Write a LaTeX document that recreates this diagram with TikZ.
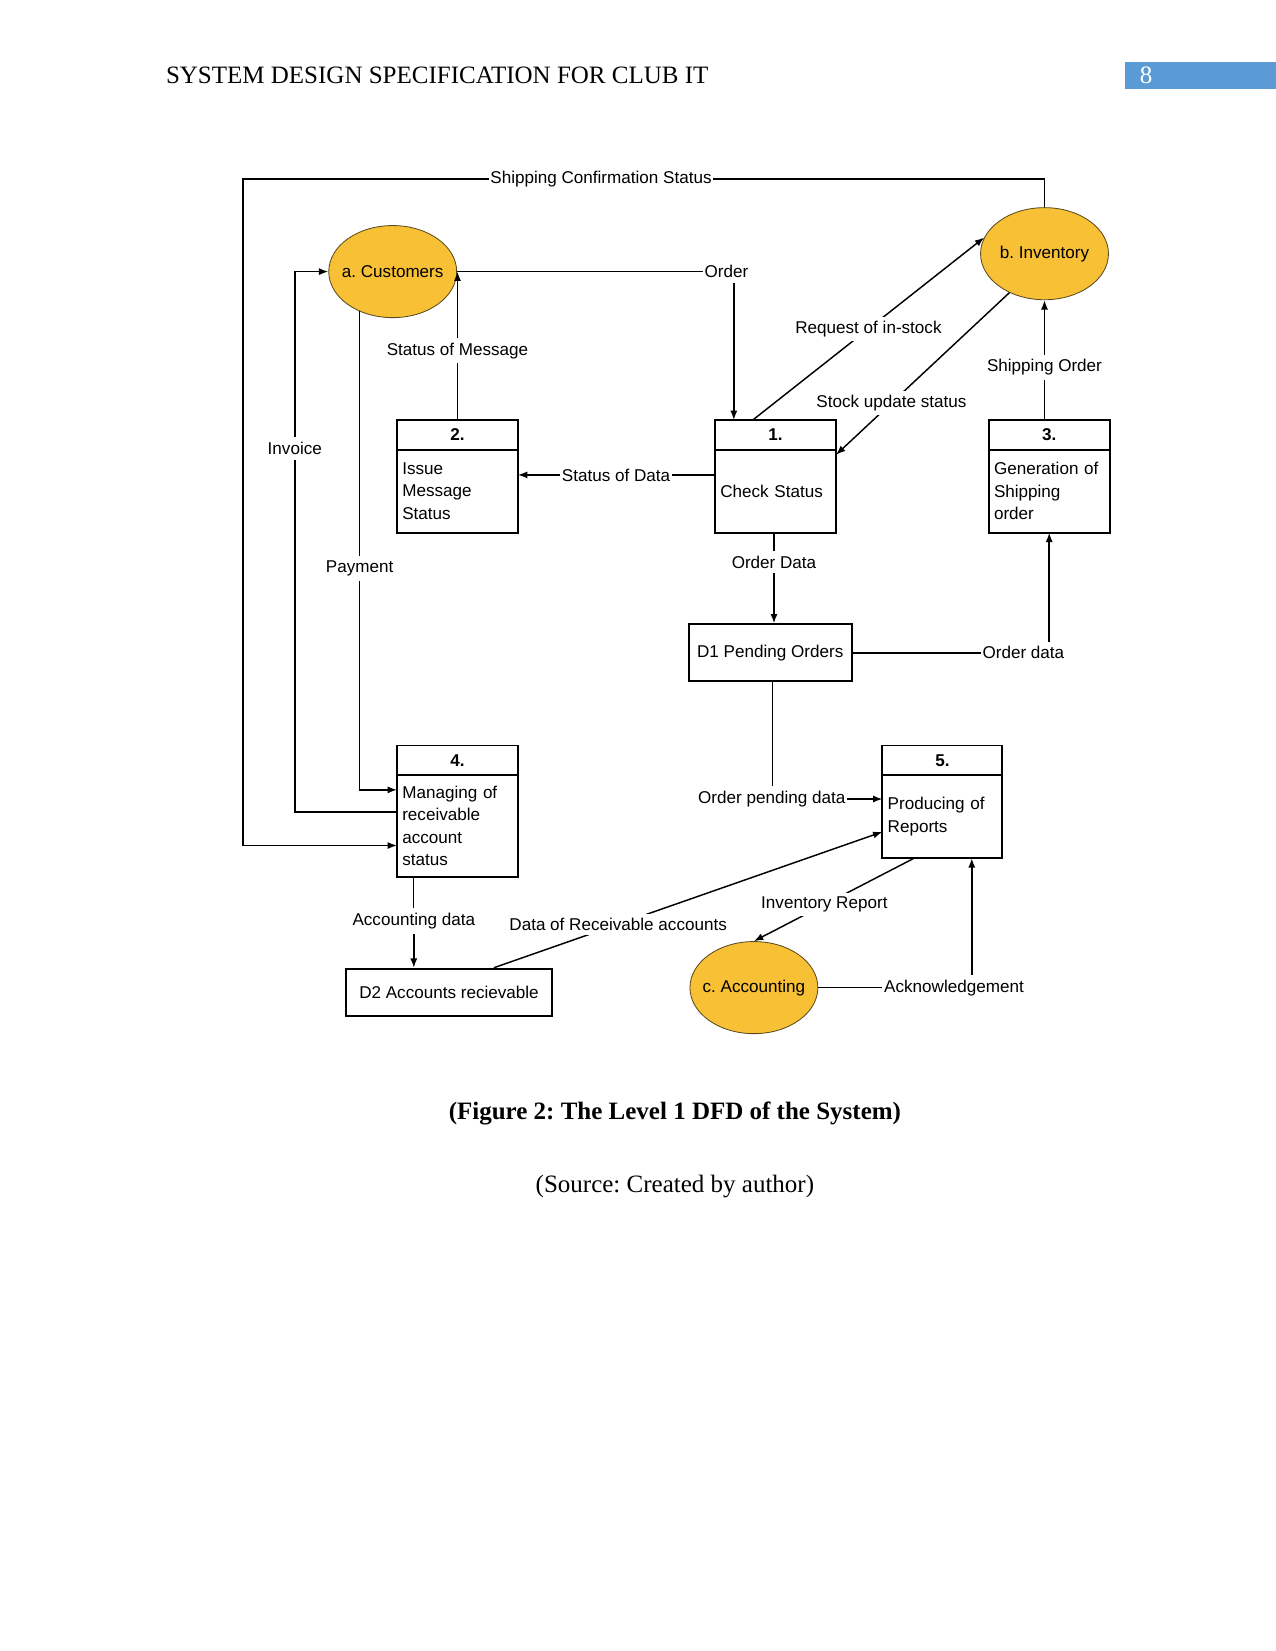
\documentclass[tikz,border=0pt]{standalone}
\usepackage{fontspec}
\setmainfont{Liberation Serif}
\newfontfamily\dfdsans{Liberation Sans}
\usepackage{tikz}
\usetikzlibrary{arrows.meta,positioning,shapes.geometric}
\usepackage{xcolor}
\definecolor{dfd-entity-yellow}{HTML}{F8C035}
\definecolor{dfd-entity-line}{HTML}{5A4A1E}
\definecolor{dfd-page-blue}{HTML}{5B9BD5}
\newcommand{\enttext}[1]{\makebox[0pt]{#1}}
\frenchspacing

\begin{document}
\begin{tikzpicture}[x=0.48pt, y=-0.48pt, >={Latex[length=4.5pt,width=3.4pt]}, line width=0.7pt,
    font=\dfdsans\fontsize{8.2}{10.8}\selectfont]
  \tikzstyle{entity}=[ellipse, draw=dfd-entity-line, line width=0.4pt, fill=dfd-entity-yellow,
    minimum width=61.4pt, minimum height=44.2pt, inner sep=0pt]
  \tikzstyle{prochead}=[draw, line width=0.95pt, anchor=north, minimum width=58.1pt, outer sep=0pt,
    minimum height=14.2pt, inner sep=0pt, font=\dfdsans\bfseries\fontsize{8.2}{10.8}\selectfont]
  \tikzstyle{procbody}=[draw, line width=0.95pt, minimum height=39.9pt, text width=53pt, outer sep=0pt,
    inner xsep=2.55pt, align=left]
  \tikzstyle{store}=[draw, line width=0.95pt, inner sep=0pt]
  \tikzstyle{lbl}=[fill=white, inner xsep=0.5pt, inner ysep=2pt]

  \useasboundingbox (0,0) rectangle (1275,1651);

  %% Page header
  \node[anchor=base west, inner sep=0pt, font=\rmfamily\fontsize{12}{14}\selectfont]
    (title) at (165.3,84) {SYSTEM DESIGN SPECIFICATION FOR CLUB IT};
  \node[fill=dfd-page-blue, anchor=north west, minimum width=72.2pt, minimum height=13.2pt,
    inner sep=0pt] (pgbox) at (1124.5,61) {};
  \node[text=white, font=\rmfamily\fontsize{12}{14}\selectfont] (pgnum) at (1146,75) {8};

  %% Entities
  \node[entity] (cust) at (392.7,271.6) {\enttext{a. Customers}};
  \node[entity] (inv)  at (1044.5,253.7) {\enttext{b. Inventory}};
  \node[entity] (acc)  at (753.9,987.6)  {\enttext{c. Accounting}};

  %% Processes
  \node[prochead] (p1h) at (775.5,420) {1.};
  \node[procbody, below=0pt of p1h] (p1) {Check Status};
  \node[prochead] (p2h) at (457.5,420) {2.};
  \node[procbody, below=0pt of p2h] (p2) {Issue\\Message\\Status};
  \node[prochead] (p3h) at (1049.2,420) {3.};
  \node[procbody, below=0pt of p3h] (p3) {Generation of\\Shipping\\order};
  \node[prochead] (p4h) at (457.5,745.5) {4.};
  \node[procbody, below=0pt of p4h, minimum height=49pt] (p4) {Managing of\\receivable\\account\\status};
  \node[prochead, minimum width=57.6pt] (p5h) at (942.4,745.5) {5.};
  \node[procbody, below=0pt of p5h, text width=52.5pt] (p5) {Producing of\\Reports};

  %% Data stores
  \node[store, minimum width=78.3pt, minimum height=27.3pt] (d1) at (770.2,652.8) {D1 Pending Orders};
  \node[store, minimum width=98.5pt, minimum height=22.7pt] (d2) at (449,992.4) {D2 Accounts recievable};

  %% Flow labels
  \node[lbl] (shiplbl) at (601,179)      {Shipping Confirmation Status};
  \node[lbl] (ordlbl)  at (726.5,271.6)  {Order};
  \node[lbl] (smlbl)   at (457.5,350.6)  {Status of Message};
  \node[lbl] (sdlbl)   at (616,474.9)    {Status of Data};
  \node[lbl] (solbl)   at (1044.5,367.5) {Shipping Order};
  \node[lbl] (invclbl) at (294.8,448.5)  {Invoice};
  \node[lbl] (paylbl)  at (359.7,568.6)  {Payment};
  \node[lbl] (odlbl)   at (774,562.3)    {Order Data};
  \node[lbl] (od2lbl)  at (1023.4,652.8) {Order data};
  \node[lbl] (opdlbl)  at (771.8,799)    {Order pending data};
  \node[lbl] (adlbl)   at (413.8,921.3)  {Accounting data};
  \node[lbl] (acklbl)  at (954,987.6)    {Acknowledgement};

  %% Attachment points
  \coordinate (loopcnr) at (243.2,845.5);
  \coordinate (ordtip)  at ([xshift=-20pt]p1h.north);
  \coordinate (acktip)  at ([xshift=14.1pt]p5.south);
  \coordinate (adstart) at ([xshift=-21pt]p4.south);
  \coordinate (opdstart) at ([xshift=1.2pt]d1.south);

  %% Customer flows
  \draw (cust.east) -- (ordlbl.west);
  \draw[->] (ordlbl.south -| ordtip) -- (ordtip);
  \draw (p2h.north) -- (smlbl.south);
  \draw[->] (smlbl.north) -- (smlbl.north |- cust.east);
  \draw (sdlbl.east) -- (sdlbl.east -| p1.west);
  \draw[->] (sdlbl.west) -- (sdlbl.west -| p2.east);
  \draw ([yshift=6.8pt]p4.west) -| (invclbl.south);
  \draw[->] (invclbl.north) |- (cust.west);
  \draw (paylbl.north |- cust.230) -- (paylbl.north);
  \draw[->] (paylbl.south) |- ([yshift=17.4pt]p4.west);

  %% Inventory flows
  \draw (inv.north) |- (shiplbl.east);
  \draw[->] (shiplbl.west) -| (loopcnr) -- (loopcnr -| p4.west);
  \draw[->] ([xshift=-10.9pt]p1h.north) -- node[lbl, pos=.5] {Request of in-stock} (inv.165);
  \draw[->] (inv.228) -- node[lbl, pos=.68] {Stock update status} ([yshift=-2.5pt]p1.north east);
  \draw (solbl.south) -- (solbl.south |- p3h.north);
  \draw[->] (solbl.north) -- (inv.south);

  %% Store flows
  \draw (odlbl.north) -- (odlbl.north |- p1.south);
  \draw[->] (odlbl.south) -- (odlbl.south |- d1.north);
  \draw (d1.east) -- (od2lbl.west);
  \draw[->] (od2lbl.north -| p3.south) -- (p3.south);
  \draw (opdstart) -- (opdstart |- opdlbl.north);
  \draw[->] (opdlbl.east) -- (opdlbl.east -| p5.west);
  \draw (adstart) -- (adstart |- adlbl.north);
  \draw[->] (adlbl.south) -- (adlbl.south |- d2.north);
  \draw[->] ([xshift=21.5pt]d2.north) -- node[lbl, pos=.32] {Data of Receivable accounts} ([yshift=-7.3pt]p5.west);

  %% Accounting flows
  \draw[->] ([xshift=-13.6pt]p5.south) -- node[lbl, pos=.56] {Inventory Report} (acc.north);
  \draw (acc.east) -- (acklbl.west);
  \draw[->] (acklbl.north -| acktip) -- (acktip);

  %% Caption
  \node[font=\rmfamily\bfseries\fontsize{12}{14}\selectfont] (figcap) at (674.9,1113)
    {(Figure 2: The Level 1 DFD of the System)};
  \node[font=\rmfamily\fontsize{12}{14}\selectfont] (srccap) at (674.9,1186.6)
    {(Source: Created by author)};
\end{tikzpicture}
\end{document}
